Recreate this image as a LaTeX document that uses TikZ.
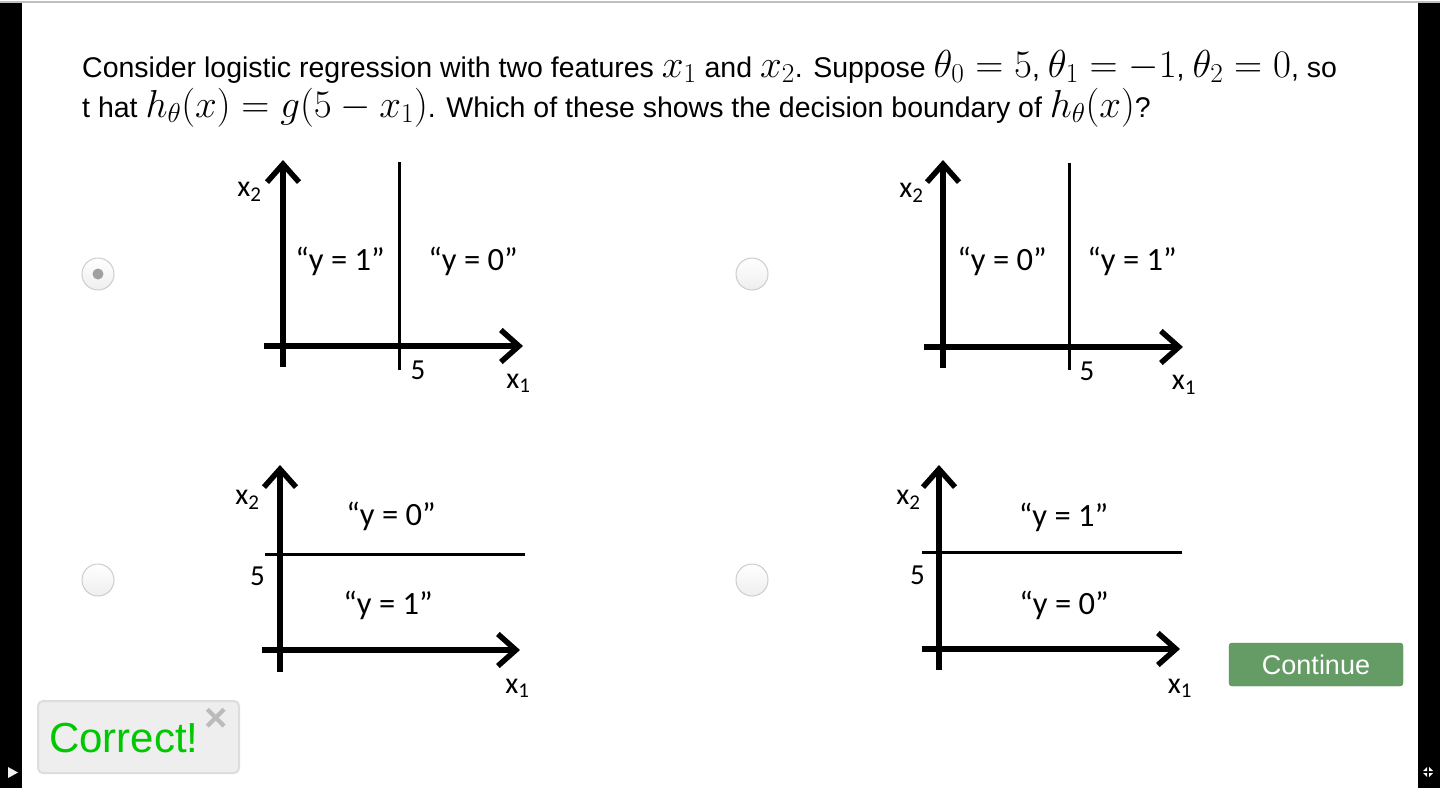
\RequirePackage{fix-cm}
\documentclass[tikz,border=0pt]{standalone}
\usepackage{fontspec}
\setmainfont{Liberation Sans}
\newfontfamily\calfont{Carlito}
\usetikzlibrary{arrows.meta,positioning}
\definecolor{Rim}{HTML}{CCCCCC}
\definecolor{Knob}{HTML}{EEEEEE}
\definecolor{Dot}{HTML}{A0A0A0}
\definecolor{Good}{HTML}{00C800}
\definecolor{BoxFill}{HTML}{EEEEEE}
\definecolor{BoxRim}{HTML}{DDDDDD}
\definecolor{Btn}{HTML}{659C65}
\definecolor{Shut}{HTML}{BBBBBB}
\newcommand{\mth}[1]{{\fontsize{39}{44}\selectfont$#1$}}

\begin{document}
\begin{tikzpicture}[
    x=1pt,y=-1pt,
    axis/.style={line width=5.5pt,-{Straight Barb[length=18pt,width=32pt]}},
    bound/.style={line width=3pt},
    lbl/.style={font=\calfont\fontsize{32.5}{36}\selectfont,inner sep=0pt},
    tick/.style={font=\calfont\fontsize{29}{32}\selectfont,inner sep=0pt},
    axlbl/.style={font=\calfont\fontsize{30}{32}\selectfont,inner sep=0pt},
    radio/.style={circle,draw=Rim,line width=1pt,top color=white,bottom color=Knob,
      minimum size=32pt,inner sep=0pt},
    line/.style={anchor=base west,inner sep=0pt,font=\fontsize{28.5}{32}\selectfont}
  ]
    \useasboundingbox (0,0) rectangle (1440,788);
    \fill[white] (0,0) rectangle (1440,788);
    \draw[gray!50,line width=2pt] (0,1.5) -- (1440,1.5);
    \fill (0,3) rectangle (22,788);
    \fill (1418,3) rectangle (1440,788);
    \fill[white!90!gray] (8,767) -- (18,772.5) -- (8,778) -- cycle;
    \foreach \sx/\sy in {-1/-1,1/-1,-1/1,1/1}
      \fill[white,shift={(1428,772)}] (\sx,\sy) -- (\sx*5,\sy) -- (\sx,\sy*5) -- cycle;
    % question
    \node[line] (q1) at (82,77) {Consider logistic regression with two features \mth{x_1} and \mth{x_2}. Suppose \mth{\theta_0=5}, \mth{\theta_1=-1}, \mth{\theta_2=0}, so};
    \node[line] (q2) at (82,117) {t hat \mth{h_\theta(x)=g(5-x_1)}. Which of these shows the decision boundary of \mth{h_\theta(x)}?};
    % answer choices
    \node[radio] (ra) at (98,274) {};
    \fill[Dot] (ra) circle (5.5pt);
    \node[radio] (rb) at (752,274) {};
    \node[radio] (rc) at (98,580) {};
    \node[radio] (rd) at (752,580) {};
    % panel a
    \begin{scope}[shift={(283,346)}]
      \coordinate (aL) at (-19,0); \coordinate (aR) at (240,0);
      \coordinate (aB) at (0,21); \coordinate (aT) at (0,-186);
      \coordinate (aD) at (116,24); \coordinate (aU) at (116,-184);
      \draw[axis] (aL) -- (aR);
      \draw[axis] (aB) -- (aT);
      \draw[bound] (aD) -- (aU);
      \node[lbl] (a1) at (57,-85) {“y = 1”};
      \node[lbl] (a0) at (190,-85) {“y = 0”};
      \node[tick] (a5) at (135,24) {5};
      \node[axlbl] (ax1) at (235.5,37.5) {x\textsubscript{1}};
      \node[axlbl] (ax2) at (-33.5,-154) {x\textsubscript{2}};
    \end{scope}
    % panel b
    \begin{scope}[shift={(943,347)}]
      \coordinate (bL) at (-19,0); \coordinate (bR) at (240,0);
      \coordinate (bB) at (0,21); \coordinate (bT) at (0,-187);
      \coordinate (bD) at (126,23); \coordinate (bU) at (126,-184);
      \draw[axis] (bL) -- (bR);
      \draw[axis] (bB) -- (bT);
      \draw[bound] (bD) -- (bU);
      \node[lbl] (b0) at (59,-86) {“y = 0”};
      \node[lbl] (b1) at (189,-86) {“y = 1”};
      \node[tick] (b5) at (144,24.5) {5};
      \node[axlbl] (bx1) at (241,38) {x\textsubscript{1}};
      \node[axlbl] (bx2) at (-31.5,-154) {x\textsubscript{2}};
    \end{scope}
    % panel c
    \begin{scope}[shift={(280,650)}]
      \coordinate (cL) at (-18,0); \coordinate (cR) at (240,0);
      \coordinate (cB) at (0,22); \coordinate (cT) at (0,-185);
      \coordinate (cW) at (-15,-96); \coordinate (cE) at (245,-96);
      \draw[axis] (cL) -- (cR);
      \draw[axis] (cB) -- (cT);
      \draw[bound] (cW) -- (cE);
      \node[lbl] (c0) at (111,-133.5) {“y = 0”};
      \node[lbl] (c1) at (108,-45) {“y = 1”};
      \node[tick] (c5) at (-22.5,-73.5) {5};
      \node[axlbl] (cx1) at (237.5,38.5) {x\textsubscript{1}};
      \node[axlbl] (cx2) at (-32.5,-150) {x\textsubscript{2}};
    \end{scope}
    % panel d
    \begin{scope}[shift={(939,649)}]
      \coordinate (dL) at (-17,0); \coordinate (dR) at (241,0);
      \coordinate (dB) at (0,21); \coordinate (dT) at (0,-184);
      \coordinate (dW) at (-17,-97); \coordinate (dE) at (243,-97);
      \draw[axis] (dL) -- (dR);
      \draw[axis] (dB) -- (dT);
      \draw[bound] (dW) -- (dE);
      \node[lbl] (d1) at (124.5,-131.5) {“y = 1”};
      \node[lbl] (d0) at (125,-44) {“y = 0”};
      \node[tick] (d5) at (-21.5,-73.5) {5};
      \node[axlbl] (dx1) at (241,39.5) {x\textsubscript{1}};
      \node[axlbl] (dx2) at (-30.5,-149) {x\textsubscript{2}};
    \end{scope}
    % feedback and button
    \node[draw=BoxRim,fill=BoxFill,rounded corners=5pt,line width=2pt,
      minimum width=201pt,minimum height=72pt] (ok) at (138.5,737) {};
    \node[anchor=base west,inner sep=0pt,text=Good,font=\fontsize{42}{48}\selectfont] (okt) at (49,752) {Correct!};
    \node[text=Shut,inner sep=0pt,font=\bfseries\fontsize{40}{44}\selectfont] (shut) at (216,720) {×};
    \node[fill=Btn,draw=Btn!85!black,rounded corners=3pt,minimum width=174pt,minimum height=43pt,
      text=white,font=\fontsize{27}{30}\selectfont] (go) at (1316,664.5) {Continue};
  \end{tikzpicture}
\end{document}
